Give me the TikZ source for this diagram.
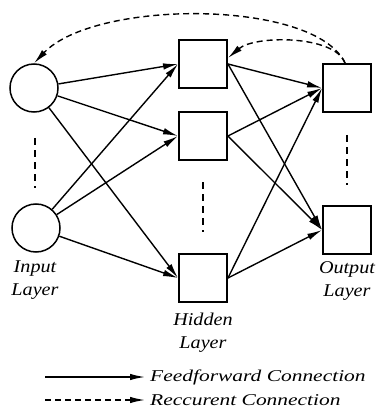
\documentclass[tikz,border=0pt]{standalone}
\usepackage{fontspec}
\setmainfont{Liberation Serif}
\usetikzlibrary{arrows.meta}
\begin{document}
\begin{tikzpicture}[x=1pt,y=-1pt,
  neuron/.style={circle,draw,line width=1.5pt,minimum size=48pt,inner sep=0pt},
  unit/.style={rectangle,draw,line width=1.9pt,minimum size=48pt,inner sep=0pt},
  ff/.style={-{Latex[length=15pt,width=6.5pt]},line width=1.4pt},
  rc/.style={ff,dash pattern=on 6pt off 4pt},
  vdots/.style={line width=1.4pt,dash pattern=on 7pt off 5pt},
  lbl/.style={font=\fontsize{18}{23}\selectfont\itshape,align=center,inner sep=0pt},
  leg/.style={font=\fontsize{16.5}{20}\selectfont\itshape,anchor=west,inner sep=0pt}]
\useasboundingbox (0,0) rectangle (378,414);
% input layer
\node[neuron] (i1) at (34,88) {};
\node[neuron] (i2) at (36,228) {};
% hidden layer
\node[unit] (h1) at (203,64) {};
\node[unit] (h2) at (203,136) {};
\node[unit] (h3) at (203,278) {};
% output layer
\node[unit] (o1) at (347,88) {};
\node[unit] (o2) at (347,230) {};
% feedforward connections
\foreach \i in {i1,i2}
  \foreach \h in {h1,h2,h3}
    \draw[ff] (\i) -- (\h.west);
\foreach \h in {h1,h2,h3}
  \foreach \o in {o1,o2}
    \draw[ff] (\h.east) -- (\o.west);
% recurrent connections
\coordinate (rs) at ([xshift=-2pt]o1.north);
\draw[rc] (rs) .. controls (315,-1) and (95,-1) .. (i1.north);
\draw[rc] (rs) .. controls (335,35) and (255,35) .. ([yshift=6pt]h1.east);
% vertical dots
\coordinate (da1) at (35,138); \coordinate (da2) at (35,188);
\coordinate (db1) at (203,182); \coordinate (db2) at (203,232);
\coordinate (dc1) at (347,135); \coordinate (dc2) at (347,185);
\draw[vdots] (da1) -- (da2);
\draw[vdots] (db1) -- (db2);
\draw[vdots] (dc1) -- (dc2);
% labels
\node[lbl] (li) at (35,280) {\scalebox{1.12}[1]{Input}\\\scalebox{1.12}[1]{Layer}};
\node[lbl] (lh) at (203,333) {\scalebox{1.12}[1]{Hidden}\\\scalebox{1.12}[1]{Layer}};
\node[lbl] (lo) at (347,281) {\scalebox{1.12}[1]{Output}\\\scalebox{1.12}[1]{Layer}};
% legend
\coordinate (f1) at (45,377); \coordinate (f2) at (145,377);
\coordinate (r1) at (45,400); \coordinate (r2) at (145,400);
\draw[ff] (f1) -- (f2);
\draw[rc] (r1) -- (r2);
\node[leg] (lf) at (150,377) {\scalebox{1.3}[1]{Feedforward Connection}};
\node[leg] (lr) at (150,400) {\scalebox{1.3}[1]{Reccurent Connection}};
\end{tikzpicture}
\end{document}
